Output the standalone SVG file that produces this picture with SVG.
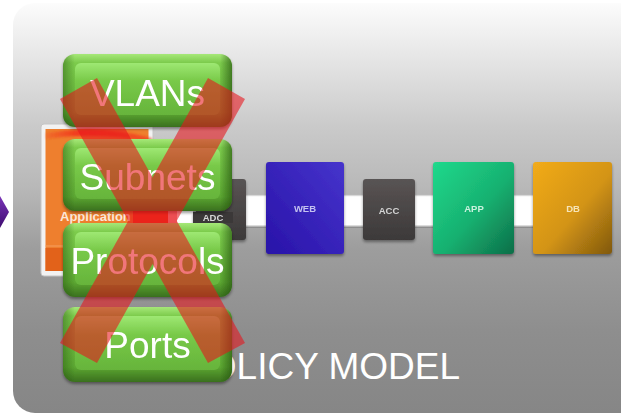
<svg xmlns="http://www.w3.org/2000/svg" width="621" height="414" viewBox="0 0 621 414">
  <defs>
    <style>
      .btn-text { font-family: "Liberation Sans", Arial, sans-serif; font-size: 37px; fill: #ffffff; text-anchor: middle; }
      .box-text { font-family: "Liberation Sans", Arial, sans-serif; font-size: 9.5px; font-weight: bold; text-anchor: middle; }
      .title { font-family: "Liberation Sans", Arial, sans-serif; font-size: 37px; fill: #ffffff; }
    </style>
    <linearGradient id="panelGrad" x1="0" y1="0" x2="0" y2="1">
      <stop offset="0" stop-color="#fcfcfc"/>
      <stop offset="0.15" stop-color="#e3e3e3"/>
      <stop offset="0.3" stop-color="#cacaca"/>
      <stop offset="0.45" stop-color="#b8b8b8"/>
      <stop offset="0.6" stop-color="#9d9d9d"/>
      <stop offset="0.8" stop-color="#8e8e8e"/>
      <stop offset="1" stop-color="#868686"/>
    </linearGradient>
    <linearGradient id="btnOuter" x1="0" y1="0" x2="0" y2="1">
      <stop offset="0" stop-color="#a6e878"/>
      <stop offset="0.12" stop-color="#7ccb4c"/>
      <stop offset="0.8" stop-color="#5ca732"/>
      <stop offset="1" stop-color="#3a701e"/>
    </linearGradient>
    <linearGradient id="btnSides" x1="0" y1="0" x2="1" y2="0">
      <stop offset="0" stop-color="#1e4a0a" stop-opacity="0.4"/>
      <stop offset="0.07" stop-color="#1e4a0a" stop-opacity="0"/>
      <stop offset="0.93" stop-color="#1e4a0a" stop-opacity="0"/>
      <stop offset="1" stop-color="#1e4a0a" stop-opacity="0.6"/>
    </linearGradient>
    <linearGradient id="btnFace" x1="0" y1="0" x2="0" y2="1">
      <stop offset="0" stop-color="#9ee873"/>
      <stop offset="0.35" stop-color="#78c948"/>
      <stop offset="1" stop-color="#66b43b"/>
    </linearGradient>
    <linearGradient id="webGrad" x1="1" y1="0" x2="0" y2="1">
      <stop offset="0" stop-color="#4634cc"/>
      <stop offset="1" stop-color="#2812a8"/>
    </linearGradient>
    <linearGradient id="accGrad" x1="0" y1="0" x2="0" y2="1">
      <stop offset="0" stop-color="#595454"/>
      <stop offset="1" stop-color="#3c3939"/>
    </linearGradient>
    <linearGradient id="appGrad" x1="0" y1="0" x2="1" y2="1">
      <stop offset="0" stop-color="#20d98c"/>
      <stop offset="0.55" stop-color="#17b070"/>
      <stop offset="1" stop-color="#0d6e48"/>
    </linearGradient>
    <linearGradient id="dbGrad" x1="0" y1="0" x2="1" y2="1">
      <stop offset="0" stop-color="#f2ab1a"/>
      <stop offset="0.55" stop-color="#d39415"/>
      <stop offset="1" stop-color="#80580e"/>
    </linearGradient>
    <linearGradient id="bandGrad" x1="0" y1="0" x2="0" y2="1">
      <stop offset="0" stop-color="#a8a8a8"/>
      <stop offset="0.08" stop-color="#ffffff"/>
      <stop offset="0.9" stop-color="#ffffff"/>
      <stop offset="1" stop-color="#7a7a7a"/>
    </linearGradient>
    <linearGradient id="swooshGrad" x1="0" y1="0" x2="1" y2="0">
      <stop offset="0" stop-color="#f2361c" stop-opacity="0.2"/>
      <stop offset="0.3" stop-color="#f2361c" stop-opacity="0.95"/>
      <stop offset="1" stop-color="#f2361c" stop-opacity="0.6"/>
    </linearGradient>
    <linearGradient id="arrowGrad" x1="0" y1="0" x2="0" y2="1">
      <stop offset="0" stop-color="#7a34b8"/>
      <stop offset="1" stop-color="#3e0c70"/>
    </linearGradient>
    <filter id="shadow" x="-20%" y="-20%" width="140%" height="140%">
      <feGaussianBlur in="SourceAlpha" stdDeviation="1.5"/>
      <feOffset dx="0" dy="2" result="b"/>
      <feComponentTransfer><feFuncA type="linear" slope="0.4"/></feComponentTransfer>
      <feMerge><feMergeNode/><feMergeNode in="SourceGraphic"/></feMerge>
    </filter>
    <filter id="soft" x="-10%" y="-10%" width="120%" height="120%">
      <feGaussianBlur stdDeviation="0.4"/>
    </filter>
    <filter id="blur2" x="-10%" y="-50%" width="120%" height="200%">
      <feGaussianBlur stdDeviation="1.2"/>
    </filter>
  </defs>

  <rect width="621" height="414" fill="#ffffff"/>

  <g id="panel">
    <rect x="13" y="3" width="640" height="410" rx="22" fill="url(#panelGrad)"/>
  </g>

  <g id="arrow">
    <polygon points="0,196 9,212 0,228" fill="url(#arrowGrad)"/>
  </g>

  <g id="app-profile">
    <rect x="41" y="124" width="112" height="152" rx="3" fill="#f2f2f2" stroke="#c4c4c4" stroke-width="1"/>
    <rect x="45.5" y="129" width="103" height="142" fill="#ee7f2e"/>
    <path d="M45.5,133 Q100,124 152,138 L152,143 Q100,131 45.5,139 Z" fill="url(#swooshGrad)" filter="url(#blur2)"/>
    <rect x="45.5" y="248" width="103" height="23" fill="#e2621a"/>
    <line x1="45.5" y1="246" x2="148.5" y2="246" stroke="#f6a060" stroke-width="1"/>
    <text x="60" y="221" font-family="Liberation Sans, Arial, sans-serif" font-size="13" font-weight="bold" fill="#fbe6d8">Application</text>
  </g>

  <g id="connectors">
    <rect x="240" y="194" width="300" height="34" fill="url(#bandGrad)"/>
    <rect x="133" y="211" width="35" height="12" fill="#f03a1a"/>
    <rect x="168" y="211" width="9" height="12" fill="#f4a0a0"/>
    <rect x="177" y="211" width="16" height="12" fill="#ffffff"/>
  </g>

  <g id="node-adc" filter="url(#shadow)">
    <rect x="196" y="179" width="50" height="61" rx="3" fill="url(#accGrad)"/>
    <rect x="193" y="212" width="40" height="11" fill="#3a3737"/>
    <text x="213" y="221" class="box-text" fill="#d8d8d8" filter="url(#soft)">ADC</text>
  </g>

  <g id="node-web" filter="url(#shadow)">
    <rect x="266" y="162" width="78" height="92" rx="3" fill="url(#webGrad)"/>
    <text x="305" y="212" class="box-text" fill="#c4c2f0" filter="url(#soft)">WEB</text>
  </g>

  <g id="node-acc" filter="url(#shadow)">
    <rect x="363" y="179" width="52" height="61" rx="3" fill="url(#accGrad)"/>
    <text x="389" y="214" class="box-text" fill="#d4d4d4" filter="url(#soft)">ACC</text>
  </g>

  <g id="node-app" filter="url(#shadow)">
    <rect x="433" y="162" width="81" height="92" rx="3" fill="url(#appGrad)"/>
    <text x="474" y="212" class="box-text" fill="#c8f2de" filter="url(#soft)">APP</text>
  </g>

  <g id="node-db" filter="url(#shadow)">
    <rect x="533" y="162" width="79" height="92" rx="3" fill="url(#dbGrad)"/>
    <text x="573" y="212" class="box-text" fill="#f6e4b8" filter="url(#soft)">DB</text>
  </g>

  <g id="title">
    <text x="460" y="379" class="title" text-anchor="end">POLICY MODEL</text>
  </g>

  <g id="btn-vlans" filter="url(#shadow)">
    <rect x="63" y="54" width="169" height="73" rx="12" fill="url(#btnOuter)"/>
    <rect x="63" y="54" width="169" height="73" rx="12" fill="url(#btnSides)"/>
    <rect x="75" y="63" width="145" height="52" rx="6" fill="url(#btnFace)" filter="url(#soft)"/>
    <text x="147.5" y="106" class="btn-text">VLANs</text>
  </g>

  <g id="btn-subnets" filter="url(#shadow)">
    <rect x="63" y="139" width="169" height="72" rx="12" fill="url(#btnOuter)"/>
    <rect x="63" y="139" width="169" height="72" rx="12" fill="url(#btnSides)"/>
    <rect x="75" y="148" width="145" height="51" rx="6" fill="url(#btnFace)" filter="url(#soft)"/>
    <text x="147.5" y="190" class="btn-text">Subnets</text>
  </g>

  <g id="btn-protocols" filter="url(#shadow)">
    <rect x="63" y="223" width="169" height="74" rx="12" fill="url(#btnOuter)"/>
    <rect x="63" y="223" width="169" height="74" rx="12" fill="url(#btnSides)"/>
    <rect x="75" y="232" width="145" height="53" rx="6" fill="url(#btnFace)" filter="url(#soft)"/>
    <text x="147.5" y="274" class="btn-text">Protocols</text>
  </g>

  <g id="btn-ports" filter="url(#shadow)">
    <rect x="63" y="307" width="169" height="75" rx="12" fill="url(#btnOuter)"/>
    <rect x="63" y="307" width="169" height="75" rx="12" fill="url(#btnSides)"/>
    <rect x="75" y="316" width="145" height="54" rx="6" fill="url(#btnFace)" filter="url(#soft)"/>
    <text x="147.5" y="358" class="btn-text">Ports</text>
  </g>

  <g id="cross" opacity="0.58" fill="#e8141c">
    <polygon points="208,78 245,99 97,363 60,343"/>
    <polygon points="97,78 60,99 208,363 245,343"/>
  </g>
</svg>
